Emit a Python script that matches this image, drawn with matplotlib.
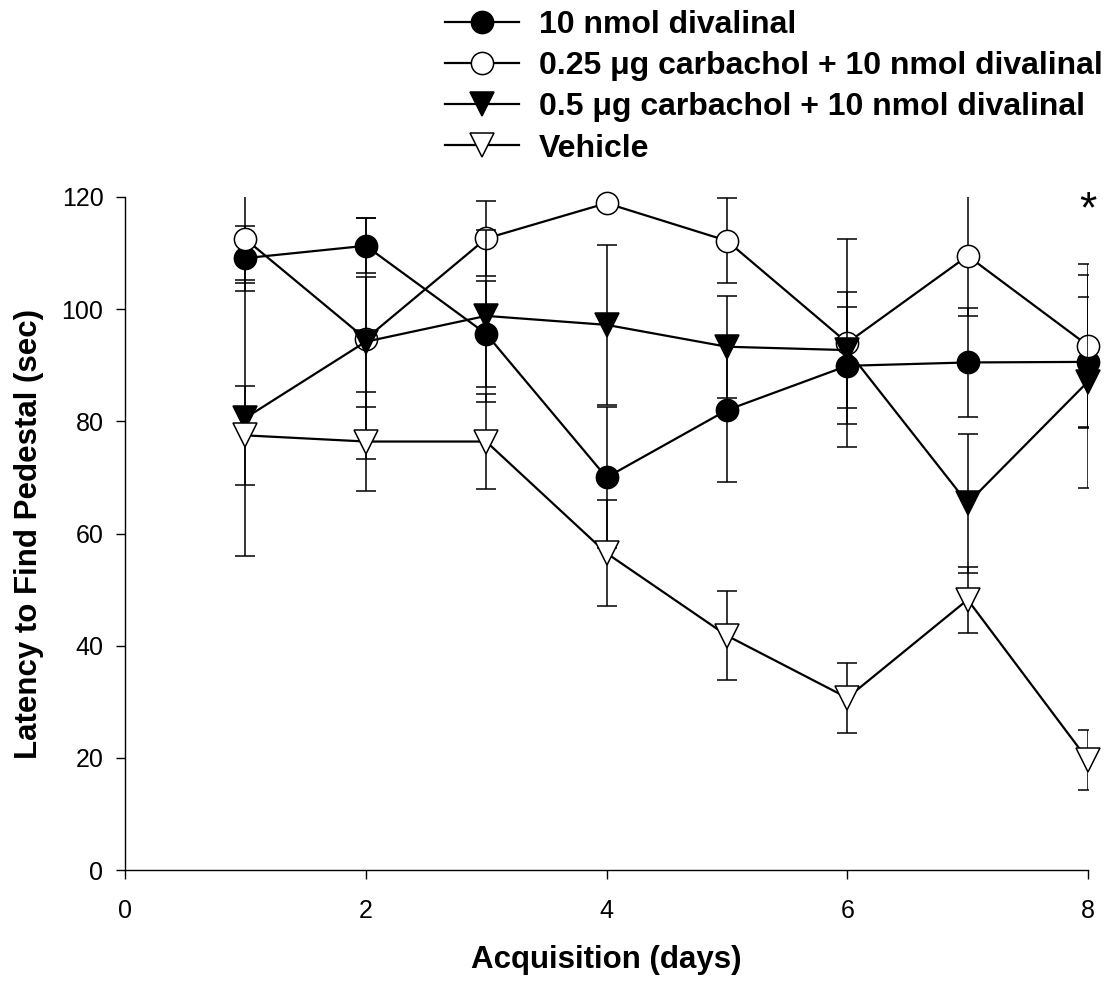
import numpy as np
import matplotlib
matplotlib.use('Agg')
import matplotlib.pyplot as plt

plt.rcParams['font.family'] = ['Liberation Sans', 'DejaVu Sans']

days = [1, 2, 3, 4, 5, 6, 7, 8]

# 10 nmol divalinal (filled circle)
div_mean = [109.1, 111.3, 95.6, 70.0, 82.0, 89.9, 90.5, 90.6]
div_err = [5.8, 4.9, 9.4, 12.5, 12.8, 10.4, 9.7, 11.6]

# 0.25 ug carbachol + divalinal (open circle)
c25_mean = [112.5, 94.7, 112.6, 118.9, 112.2, 94.0, 109.5, 93.5]
c25_err = [7.9, 21.5, 6.7, 0.5, 7.6, 18.5, 10.7, 14.6]

# 0.5 ug carbachol + divalinal (filled triangle)
c50_mean = [80.6, 94.2, 98.8, 97.2, 93.3, 92.7, 65.4, 87.1]
c50_err = [24.6, 11.6, 15.4, 14.2, 9.1, 10.4, 12.4, 19.0]

# vehicle (open triangle)
veh_mean = [77.5, 76.4, 76.4, 56.5, 41.8, 30.7, 48.2, 19.6]
veh_err = [8.8, 8.9, 8.5, 9.5, 7.9, 6.2, 5.9, 5.3]

labels = ['10 nmol divalinal',
          '0.25 \u03bcg carbachol + 10 nmol divalinal',
          '0.5 \u03bcg carbachol + 10 nmol divalinal',
          'Vehicle']

series = [(div_mean, div_err, 'o', 'black'),
          (c25_mean, c25_err, 'o', 'white'),
          (c50_mean, c50_err, 'v', 'black'),
          (veh_mean, veh_err, 'v', 'white')]

fig = plt.figure(figsize=(11.14, 9.81), dpi=100)
ax = fig.add_axes([0.1122, 0.1131, 0.8645, 0.6861])

for i, (m, e, mk, fc) in enumerate(series):
    ms = 16 if mk == 'o' else 17
    # error bars sit under this series' markers but over earlier series
    ax.errorbar(days, m, yerr=e, fmt='none', ecolor='black', elinewidth=1.1,
                capsize=7.5, capthick=1.1, zorder=3 + 2 * i)
    ax.plot(days, m, color='black', lw=1.6, marker=mk, markersize=ms,
            markerfacecolor=fc, markeredgecolor='black', markeredgewidth=1.1,
            label=labels[i], clip_on=False, zorder=4 + 2 * i)

ax.set_xlim(0, 8)
ax.set_ylim(0, 120)
ax.set_xticks([0, 2, 4, 6, 8])
ax.set_yticks(np.arange(0, 121, 20))
ax.spines['top'].set_visible(False)
ax.spines['right'].set_visible(False)
ax.spines['left'].set_linewidth(1.0)
ax.spines['bottom'].set_linewidth(1.0)
ax.tick_params(direction='out', length=6.5, width=1.0, labelsize=18)
ax.tick_params(axis='x', pad=14)
ax.tick_params(axis='y', pad=9)

ax.set_xlabel('Acquisition (days)', fontsize=22.5, fontweight='bold', labelpad=16)
ax.set_ylabel('Latency to Find Pedestal (sec)', fontsize=22.5, fontweight='bold', labelpad=13)

ax.text(8, 117.5, '*', fontsize=32, ha='center', va='center')

fig.legend(loc='upper left', bbox_to_anchor=(445 / 1114, 1 - 10 / 981),
           frameon=False, prop={'weight': 'bold', 'size': 23},
           handlelength=2.32, handletextpad=0.62, labelspacing=0.35,
           borderpad=0, borderaxespad=0)

fig.savefig('out.png', dpi=100)
